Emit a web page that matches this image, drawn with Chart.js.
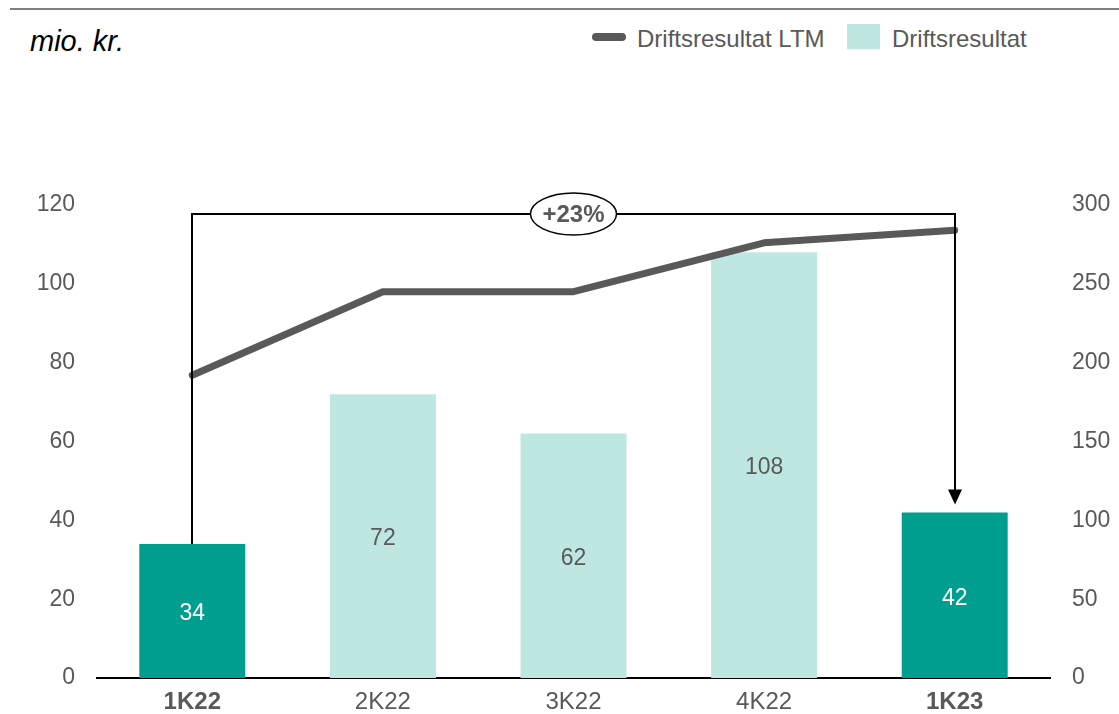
<!DOCTYPE html>
<html>
<head>
<meta charset="utf-8">
<script src="https://cdn.jsdelivr.net/npm/chart.js@4/dist/chart.umd.min.js"></script>
<style>
  html, body { margin:0; padding:0; background:#fff; }
  #wrap { position:relative; width:1119px; height:714px; overflow:hidden; font-family:"Liberation Sans", Arial, sans-serif; }
  #rule { position:absolute; left:10px; right:0; top:8px; height:2px; background:#7f7f7f; }
  #unit { position:absolute; left:30px; top:27px; font-size:29px; line-height:1; font-style:italic; color:#000; }
  .leg { position:absolute; top:27px; font-size:24px; line-height:1; color:#595959; white-space:nowrap; }
  #legLine { position:absolute; left:592px; top:33px; width:34px; height:8px; border-radius:4px; background:#595959; }
  #legBox { position:absolute; left:847px; top:24px; width:33px; height:25px; background:#BFE7E2; }
  canvas { position:absolute; left:0; top:0; }
</style>
</head>
<body>
<div id="wrap">
  <div id="rule"></div>
  <div id="unit">mio. kr.</div>
  <div id="legLine"></div>
  <div class="leg" style="left:637px;">Driftsresultat LTM</div>
  <div id="legBox"></div>
  <div class="leg" style="left:892px;">Driftsresultat</div>
  <canvas id="c" width="1119" height="714"></canvas>
</div>
<script>
const categories = ['1K22', '2K22', '3K22', '4K22', '1K23'];
const driftsresultat = [34, 72, 62, 108, 42];
const driftsresultatLTM = [192, 245, 245, 276, 284];
const boldCategories = ['1K22', '1K23'];
const leftAxis = { min: 0, max: 120, step: 20 };
const rightAxis = { min: 0, max: 300, step: 50 };
const growthLabel = '+23%';
const bracketLevel = 117.6;   // left-axis value of the bracket's horizontal line

const DARK = '#009E8E', LIGHT = '#BFE7E2', GREY = '#595959';
const FONT = '"Liberation Sans", Arial, sans-serif';

const barLabels = {
  id: 'barLabels',
  afterDatasetsDraw(chart) {
    const ctx = chart.ctx;
    const meta = chart.getDatasetMeta(1);
    ctx.save();
    ctx.font = '23px ' + FONT;
    ctx.textAlign = 'center';
    ctx.textBaseline = 'middle';
    meta.data.forEach((el, i) => {
      const bold = boldCategories.includes(categories[i]);
      ctx.fillStyle = bold ? '#ffffff' : GREY;
      ctx.fillText(String(driftsresultat[i]), el.x, (el.y + el.base) / 2 + 3);
    });
    ctx.restore();
  }
};

const bracket = {
  id: 'bracket',
  afterDraw(chart) {
    const ctx = chart.ctx;
    const meta = chart.getDatasetMeta(1);
    const yS = chart.scales.y;
    const first = meta.data[0], last = meta.data[meta.data.length - 1];
    const yTop = Math.round(yS.getPixelForValue(bracketLevel));
    const x1 = Math.round(first.x), x2 = Math.round(last.x);
    const tipY = last.y - 8;
    ctx.save();
    ctx.strokeStyle = '#000';
    ctx.lineWidth = 2;
    ctx.beginPath();
    ctx.moveTo(x1, first.y);
    ctx.lineTo(x1, yTop);
    ctx.lineTo(x2, yTop);
    ctx.lineTo(x2, tipY - 12);
    ctx.stroke();
    ctx.fillStyle = '#000';
    ctx.beginPath();
    ctx.moveTo(x2 - 7, tipY - 15);
    ctx.lineTo(x2 + 7, tipY - 15);
    ctx.lineTo(x2, tipY);
    ctx.closePath();
    ctx.fill();
    const cx = chart.scales.x.getPixelForValue(2);
    ctx.beginPath();
    ctx.ellipse(cx, yTop, 43, 21, 0, 0, Math.PI * 2);
    ctx.fillStyle = '#fff';
    ctx.fill();
    ctx.lineWidth = 1.5;
    ctx.stroke();
    ctx.fillStyle = GREY;
    ctx.font = 'bold 24px ' + FONT;
    ctx.textAlign = 'center';
    ctx.textBaseline = 'middle';
    ctx.fillText(growthLabel, cx, yTop + 1);
    ctx.restore();
  }
};

new Chart(document.getElementById('c'), {
  data: {
    labels: categories,
    datasets: [
      {
        type: 'line',
        label: 'Driftsresultat LTM',
        data: driftsresultatLTM,
        yAxisID: 'y2',
        borderColor: GREY,
        borderWidth: 7,
        borderCapStyle: 'round',
        borderJoinStyle: 'round',
        pointRadius: 0,
        tension: 0,
        order: 0
      },
      {
        type: 'bar',
        label: 'Driftsresultat',
        data: driftsresultat,
        yAxisID: 'y',
        backgroundColor: categories.map(c => boldCategories.includes(c) ? DARK : LIGHT),
        barPercentage: 0.556,
        categoryPercentage: 1,
        order: 1
      }
    ]
  },
  options: {
    responsive: false,
    animation: false,
    layout: { padding: { top: 205, left: 0, right: 0, bottom: 0 } },
    plugins: { legend: { display: false }, tooltip: { enabled: false } },
    scales: {
      x: {
        grid: { display: false, drawTicks: false },
        border: { display: true, color: '#000', width: 2 },
        ticks: {
          color: GREY,
          padding: 10,
          font: (c) => ({ family: FONT, size: 24, weight: boldCategories.includes(categories[c.index]) ? 'bold' : 'normal' })
        },
        afterFit(s) { s.height = 36; }
      },
      y: {
        position: 'left',
        min: leftAxis.min, max: leftAxis.max,
        grid: { display: false, drawTicks: false },
        border: { display: false },
        ticks: { stepSize: leftAxis.step, color: GREY, padding: 22, font: { family: FONT, size: 23 } },
        afterFit(s) { s.width = 97; }
      },
      y2: {
        position: 'right',
        min: rightAxis.min, max: rightAxis.max,
        grid: { display: false, drawTicks: false },
        border: { display: false },
        ticks: { stepSize: rightAxis.step, color: GREY, padding: 22, font: { family: FONT, size: 23 } },
        afterFit(s) { s.width = 69; }
      }
    }
  },
  plugins: [barLabels, bracket]
});
</script>
</body>
</html>
